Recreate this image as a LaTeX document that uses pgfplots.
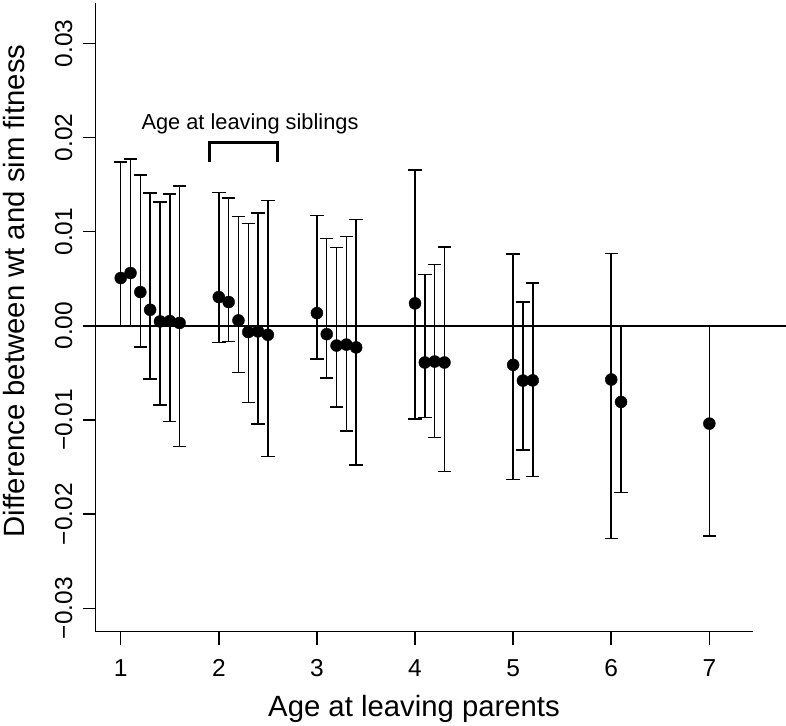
\documentclass[border=0pt]{standalone}
\usepackage{fontspec}
\setmainfont{Liberation Sans}
\usepackage{pgfplots}
\pgfplotsset{compat=1.18}
\usepackage{pgfplotstable}
\pgfplotstableread{
x y up lo
1.0 0.00507 0.01741 0.0
1.1 0.00560 0.01773 0.0
1.2 0.00358 0.01603 -0.00225
1.3 0.00170 0.01411 -0.00567
1.4 0.00046 0.01312 -0.00840
1.5 0.00050 0.01397 -0.01018
1.6 0.00030 0.01482 -0.01284
2.0 0.00305 0.01418 -0.00177
2.1 0.00252 0.01355 -0.00167
2.2 0.00057 0.01163 -0.00496
2.3 -0.00067 0.01085 -0.00816
2.4 -0.00060 0.01199 -0.01043
2.5 -0.00096 0.01333 -0.01390
3.0 0.00135 0.01173 -0.00351
3.1 -0.00089 0.00926 -0.00553
3.2 -0.00210 0.00833 -0.00865
3.3 -0.00200 0.00950 -0.01120
3.4 -0.00230 0.01128 -0.01479
4.0 0.00238 0.01652 -0.00989
4.1 -0.00390 0.00543 -0.00972
4.2 -0.00380 0.00649 -0.01188
4.3 -0.00390 0.00837 -0.01550
5.0 -0.00415 0.00762 -0.01631
5.1 -0.00582 0.00255 -0.01320
5.2 -0.00580 0.00454 -0.01603
6.0 -0.00571 0.00766 -0.02259
6.1 -0.00809 0.0 -0.01769
7.0 -0.01039 0.0 -0.02231
}\datatable

\begin{document}
\begin{tikzpicture}
\begin{axis}[
  at={(95.7pt,93.3pt)}, anchor=south west,
  scale only axis, width=657.3pt, height=628.7pt,
  xmin=0.745, xmax=7.445, ymin=-0.03249, ymax=0.03428,
  axis x line*=bottom, axis y line*=left,
  axis line style={-, line width=1.5pt, black},
  tick align=outside, major tick length=13pt,
  tick style={line width=1.5pt, black},
  scaled y ticks=false, scaled x ticks=false,
  xtick={1,2,3,4,5,6,7}, xticklabels={1,2,3,4,5,6,7},
  ytick={-0.03,-0.02,-0.01,0,0.01,0.02,0.03},
  yticklabels={−0.03,−0.02,−0.01,0.00,0.01,0.02,0.03},
  xticklabel style={font=\fontsize{24.5}{29}\selectfont, anchor=base, yshift=-32pt},
  yticklabel style={font=\fontsize{24.5}{29}\selectfont, xshift=-10.7pt, rotate=90, anchor=base},
  xlabel={Age at leaving parents},
  ylabel={Difference between wt and sim fitness},
  label style={font=\fontsize{29.3}{35}\selectfont},
  xlabel style={at={(rel axis cs:0.4843,-0.1341)}, anchor=base},
  ylabel style={at={(rel axis cs:-0.1076,0.5419)}, anchor=base},
  clip=false,
]
\draw[line width=1.5pt] (axis cs:0.745,0) -- (axis cs:7.78,0);
\addplot[only marks, mark=*, mark size=6pt, black,
  error bars/.cd, y dir=both, y explicit,
  error mark=|,
  error bar style={line width=1.5pt, black},
  error mark options={line width=1.5pt, mark size=6.7pt, black}]
  table[x=x, y=y, y error plus expr=\thisrow{up}-\thisrow{y}, y error minus expr=\thisrow{y}-\thisrow{lo}] {\datatable};
\draw[line width=3pt, line cap=butt, line join=miter] (axis cs:1.91,0.01737) -- (axis cs:1.91,0.01943) -- (axis cs:2.596,0.01943) -- (axis cs:2.596,0.01737);
\node[anchor=base, font=\fontsize{21.8}{26}\selectfont, inner sep=0pt] at (axis cs:2.318,0.02084) {Age at leaving siblings};
\end{axis}
\pgfresetboundingbox
\path[use as bounding box] (0,0) rectangle (786pt,725pt);
\end{tikzpicture}
\end{document}
